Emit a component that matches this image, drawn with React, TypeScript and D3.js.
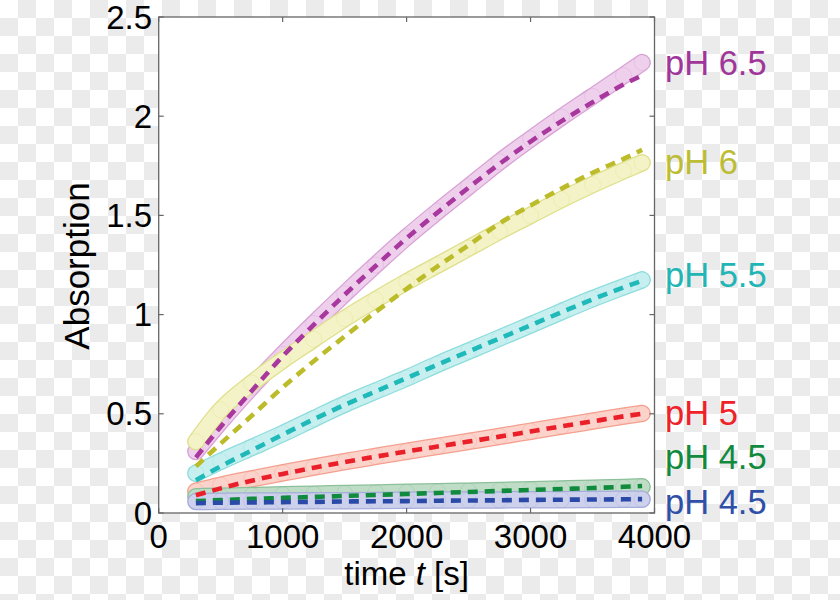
import React from "react";
import * as d3 from "d3";

const TIMES = [300, 500, 750, 1000, 1250, 1500, 1750, 2000, 2250, 2500, 2750, 3000, 3250, 3500, 3750, 3900];

const PH65_DATA = [0.31, 0.46, 0.635, 0.8, 0.955, 1.105, 1.25, 1.39, 1.52, 1.645, 1.77, 1.885, 1.995, 2.1, 2.205, 2.27];
const PH65_FIT = [0.28, 0.435, 0.615, 0.79, 0.948, 1.1, 1.245, 1.385, 1.515, 1.64, 1.76, 1.872, 1.975, 2.07, 2.16, 2.205];

const PH6_DATA = [0.36, 0.52, 0.655, 0.77, 0.875, 0.98, 1.075, 1.165, 1.25, 1.335, 1.42, 1.5, 1.58, 1.655, 1.725, 1.765];
const PH6_FIT = [0.235, 0.35, 0.49, 0.633, 0.765, 0.89, 1.013, 1.13, 1.243, 1.35, 1.46, 1.55, 1.635, 1.715, 1.785, 1.83];

const PH55_DATA = [0.2, 0.26, 0.33, 0.4, 0.475, 0.548, 0.615, 0.68, 0.75, 0.816, 0.882, 0.948, 1.015, 1.08, 1.14, 1.175];
const PH55_FIT = [0.165, 0.235, 0.315, 0.395, 0.472, 0.545, 0.613, 0.68, 0.748, 0.814, 0.88, 0.946, 1.012, 1.077, 1.137, 1.17];

const PH5_DATA = [0.11, 0.14, 0.172, 0.202, 0.231, 0.259, 0.285, 0.311, 0.336, 0.361, 0.386, 0.412, 0.438, 0.463, 0.488, 0.502];
const PH5_FIT = [0.09, 0.124, 0.163, 0.197, 0.228, 0.257, 0.284, 0.31, 0.335, 0.36, 0.385, 0.411, 0.437, 0.462, 0.487, 0.5];

const PH45A_DATA = [0.082, 0.085, 0.088, 0.092, 0.095, 0.098, 0.101, 0.104, 0.107, 0.11, 0.113, 0.117, 0.121, 0.125, 0.129, 0.132];
const PH45A_FIT = [0.06, 0.065, 0.071, 0.076, 0.081, 0.086, 0.091, 0.096, 0.101, 0.106, 0.111, 0.116, 0.121, 0.126, 0.132, 0.136];

const PH45B_DATA = [0.058, 0.059, 0.06, 0.061, 0.062, 0.062, 0.063, 0.064, 0.065, 0.065, 0.066, 0.067, 0.067, 0.068, 0.069, 0.069];
const PH45B_FIT = [0.05, 0.052, 0.053, 0.055, 0.056, 0.058, 0.059, 0.06, 0.062, 0.063, 0.064, 0.066, 0.067, 0.068, 0.069, 0.07];

const SERIES_NAMES = ["pH 6.5", "pH 6", "pH 5.5", "pH 5", "pH 4.5", "pH 4.5"];
const LABEL_VALUES = [2.27, 1.77, 1.2, 0.505, 0.282, 0.058];

const X_TICKS = [0, 1000, 2000, 3000, 4000];
const X_TICK_LABELS = ["0", "1000", "2000", "3000", "4000"];
const Y_TICKS = [0, 0.5, 1, 1.5, 2, 2.5];
const Y_TICK_LABELS = ["0", "0.5", "1", "1.5", "2", "2.5"];

const STYLES = [
  { line: "#a8379e", outline: "#d9a2d5", fill: "rgba(243,220,242,0.8)", text: "#a0369a" },
  { line: "#bcbc2a", outline: "#dfdf8c", fill: "rgba(248,248,214,0.8)", text: "#bdbd35" },
  { line: "#1fb9b9", outline: "#8edddd", fill: "rgba(215,244,244,0.8)", text: "#22b5b5" },
  { line: "#ea1f2a", outline: "#f4a090", fill: "rgba(252,224,216,0.8)", text: "#ee2228" },
  { line: "#108a3c", outline: "#8cc09a", fill: "rgba(208,230,214,0.75)", text: "#118a3e" },
  { line: "#2b4aa8", outline: "#a7addb", fill: "rgba(218,222,242,0.75)", text: "#3050a8" },
];

const DATA = [PH65_DATA, PH6_DATA, PH55_DATA, PH5_DATA, PH45A_DATA, PH45B_DATA];
const FITS = [PH65_FIT, PH6_FIT, PH55_FIT, PH5_FIT, PH45A_FIT, PH45B_FIT];

const W = 840;
const H = 600;
const FONT = "'Liberation Sans', Arial, Helvetica, sans-serif";

export default function App() {
  const x = d3.scaleLinear().domain([0, 4000]).range([158.7, 654.5]);
  const y = d3.scaleLinear().domain([0, 2.5]).range([513, 17]);
  const line = d3
    .line<number>()
    .x((_, i) => x(TIMES[i]))
    .y((d) => y(d))
    .curve(d3.curveMonotoneX);

  const [x0, x1] = x.range();
  const [yb, yt] = y.range();

  return (
    <svg
      width={W}
      height={H}
      viewBox={`0 0 ${W} ${H}`}
      style={{ position: "absolute", left: 0, top: 0, display: "block" }}
      fontFamily={FONT}
    >
      <defs>
        <pattern id="checker" width="36" height="36" patternUnits="userSpaceOnUse">
          <rect width="36" height="36" fill="#ffffff" />
          <rect x="18" y="0" width="18" height="18" fill="#ebebeb" />
          <rect x="0" y="18" width="18" height="18" fill="#ebebeb" />
        </pattern>
        <clipPath id="plotclip">
          <rect x={x0} y={yt} width={x1 - x0} height={yb - yt} />
        </clipPath>
      </defs>
      <rect width={W} height={H} fill="url(#checker)" />
      <rect x={x0} y={yt} width={x1 - x0} height={yb - yt} fill="#ffffff" />

      <g clipPath="url(#plotclip)">
        {DATA.map((vals, i) => (
          <g key={"band" + i}>
            <path d={line(vals) || ""} fill="none" stroke={STYLES[i].outline} strokeWidth={17.5} strokeLinecap="round" strokeLinejoin="round" />
            <path d={line(vals) || ""} fill="none" stroke={STYLES[i].fill} strokeWidth={15} strokeLinecap="round" strokeLinejoin="round" />
            {vals.map((v, j) => (
              <circle key={j} cx={x(TIMES[j])} cy={y(v)} r={8} fill="none" stroke={STYLES[i].outline} strokeWidth={0.6} opacity={0.6} />
            ))}
          </g>
        ))}
        {FITS.map((vals, i) => (
          <path
            key={"fit" + i}
            d={line(vals) || ""}
            fill="none"
            stroke={STYLES[i].line}
            strokeWidth={4.6}
            strokeDasharray="10,7"
          />
        ))}
      </g>

      {/* frame */}
      <rect x={x0} y={yt} width={x1 - x0} height={yb - yt} fill="none" stroke="#666" strokeWidth={1.3} />
      {X_TICKS.map((t, i) => (
        <g key={"xt" + i}>
          <line x1={x(t)} x2={x(t)} y1={yb} y2={yb - 5} stroke="#666" strokeWidth={1.2} />
          <line x1={x(t)} x2={x(t)} y1={yt} y2={yt + 5} stroke="#666" strokeWidth={1.2} />
          <text x={x(t)} y={548} textAnchor="middle" fontSize={33} fill="#000">
            {X_TICK_LABELS[i]}
          </text>
        </g>
      ))}
      {Y_TICKS.map((t, i) => (
        <g key={"yt" + i}>
          <line x1={x0} x2={x0 + 5} y1={y(t)} y2={y(t)} stroke="#666" strokeWidth={1.2} />
          <line x1={x1} x2={x1 - 5} y1={y(t)} y2={y(t)} stroke="#666" strokeWidth={1.2} />
          <text x={152} y={y(t)} dy="0.35em" textAnchor="end" fontSize={33} fill="#000">
            {Y_TICK_LABELS[i]}
          </text>
        </g>
      ))}

      <text x={(x0 + x1) / 2} y={585} textAnchor="middle" fontSize={33} fill="#000">
        time <tspan fontStyle="italic">t</tspan> [s]
      </text>
      <text
        transform={`translate(89,${(yt + yb) / 2 + 1}) rotate(-90)`}
        textAnchor="middle"
        fontSize={35}
        fill="#000"
      >
        Absorption
      </text>

      {SERIES_NAMES.map((name, i) => (
        <text key={"lab" + i} x={665} y={y(LABEL_VALUES[i])} dy="0.35em" fontSize={34.5} fill={STYLES[i].text}>
          {name}
        </text>
      ))}
    </svg>
  );
}
